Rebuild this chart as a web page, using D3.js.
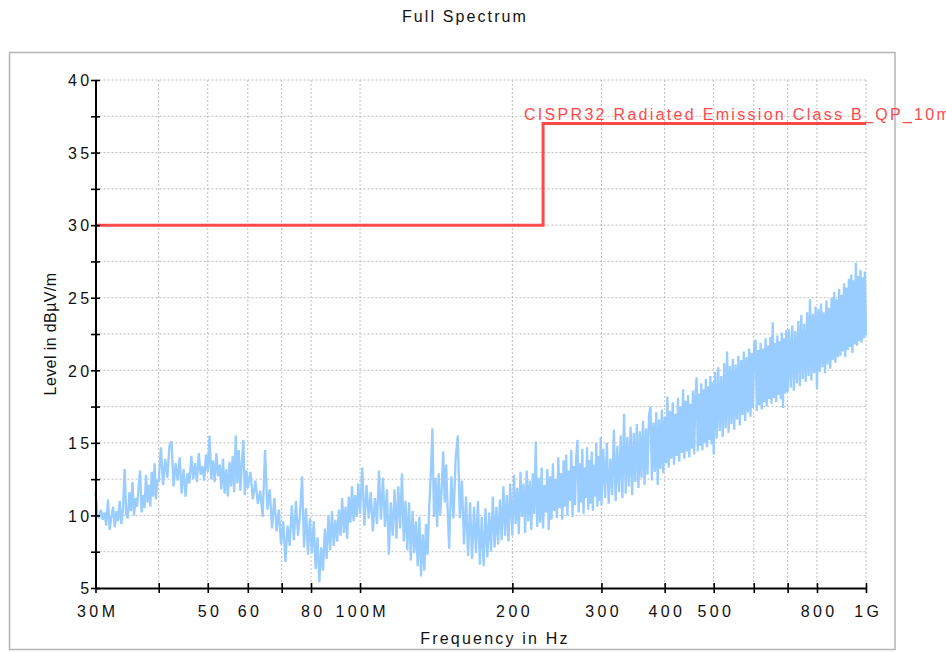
<!DOCTYPE html>
<html><head><meta charset="utf-8">
<script src="https://cdn.jsdelivr.net/npm/d3@7"></script>
<style>
body{margin:0;background:#fff;}
svg{display:block;font-family:"Liberation Sans",Arial,sans-serif;}
</style>
</head><body>
<svg id="chart" width="946" height="652"></svg>
<script>
// ---------- texts ----------
const chartTitle = "Full Spectrum";
const xAxisTitle = "Frequency in Hz";
const yAxisTitle = "Level in dBµV/m";
const limitName = "CISPR32 Radiated Emission Class B_QP_10m";

// ---------- ticks ----------
const xTickValues = [30, 40, 50, 60, 70, 80, 100, 200, 300, 400, 500, 600, 700, 800, 1000];
const xTickLabels = ["30M", "", "50", "60", "", "80", "100M", "200", "300", "400", "500", "", "", "800", "1G"];
const yTickValues = [5, 7.5, 10, 12.5, 15, 17.5, 20, 22.5, 25, 27.5, 30, 32.5, 35, 37.5, 40];
const yTickLabels = ["5", "", "10", "", "15", "", "20", "", "25", "", "30", "", "35", "", "40"];

// ---------- limit line (MHz, dBµV/m) ----------
const limitFreq = [30, 230, 230, 1000];
const limitLevel = [30, 30, 37, 37];

const trace30to40 = [[30.00,11.6],[30.25,10.1],[30.50,9.8],[30.75,10.4],[31.00,9.7],[31.25,10.2],[31.50,9.3],[31.75,11.1],[32.00,9.0],[32.25,9.9],[32.50,10.6],[32.75,9.2],[33.00,10.3],[33.25,9.6],[33.50,11.0],[33.75,9.4],[34.00,10.4],[34.25,13.2],[34.50,10.1],[34.75,9.8],[35.00,11.6],[35.25,10.3],[35.50,12.3],[35.75,10.0],[36.00,11.2],[36.25,10.6],[36.50,11.9],[36.75,13.1],[37.00,10.2],[37.25,11.4],[37.50,10.5],[37.75,12.8],[38.00,10.9],[38.25,12.1],[38.50,10.6],[38.75,13.0],[39.00,11.3],[39.25,13.6],[39.50,11.1],[39.75,12.4]];
const trace40to60 = [[40.0,12.3],[40.4,14.7],[40.8,12.1],[41.2,13.9],[41.6,12.6],[42.0,14.8],[42.4,15.1],[42.8,12.0],[43.2,13.6],[43.6,12.4],[44.0,14.0],[44.4,11.5],[44.8,13.2],[45.2,11.3],[45.6,12.9],[46.0,12.2],[46.4,14.1],[46.8,12.5],[47.2,13.6],[47.6,12.3],[48.0,14.3],[48.4,12.8],[48.8,13.4],[49.2,12.4],[49.6,14.2],[50.0,13.0],[50.4,15.5],[50.8,12.5],[51.2,13.8],[51.6,12.3],[52.0,14.3],[52.4,12.7],[52.8,13.5],[53.2,11.8],[53.6,13.9],[54.0,11.5],[54.4,13.2],[54.8,11.3],[55.2,13.7],[55.6,12.0],[56.0,14.1],[56.4,11.6],[56.8,15.5],[57.2,12.2],[57.6,14.5],[58.0,11.7],[58.4,13.6],[58.8,15.2],[59.2,11.4],[59.6,13.1]];
const trace60to100 = [[60.0,11.9],[60.7,13.0],[61.4,11.1],[62.1,12.4],[62.8,10.8],[63.5,11.7],[64.2,9.9],[64.9,14.5],[65.6,10.4],[66.3,11.8],[67.0,9.1],[67.7,11.2],[68.4,8.9],[69.1,10.4],[69.8,8.0],[70.5,9.6],[71.2,6.8],[71.9,9.3],[72.6,7.9],[73.3,10.7],[74.0,8.3],[74.7,11.0],[75.4,8.6],[76.1,10.1],[76.8,12.7],[77.5,7.8],[78.2,10.5],[78.9,7.3],[79.6,9.8],[80.3,7.4],[81.0,9.6],[81.7,6.3],[82.4,8.5],[83.1,5.4],[83.8,7.8],[84.5,6.2],[85.2,9.1],[85.9,7.0],[86.6,10.0],[87.3,7.6],[88.0,10.3],[88.7,7.9],[89.4,9.7],[90.1,8.2],[90.8,10.4],[91.5,8.6],[92.2,11.2],[92.9,8.8],[93.6,10.6],[94.3,8.4],[95.0,11.3],[95.7,9.5],[96.4,12.0],[97.1,9.6],[97.8,11.4],[98.5,9.9],[99.2,12.2]];
const trace100to150 = [[100,10.1],[101,13.3],[102,9.3],[103,12.1],[104,9.8],[105,11.6],[106,8.9],[107,11.2],[108,9.4],[109,13.1],[110,9.7],[111,12.6],[112,9.2],[113,11.8],[114,7.3],[115,10.9],[116,8.6],[117,11.8],[118,8.4],[119,12.0],[120,9.1],[121,12.9],[122,8.2],[123,11.0],[124,7.6],[125,10.9],[126,6.9],[127,10.3],[128,7.4],[129,9.6],[130,6.5],[131,9.9],[132,5.8],[133,8.7],[134,6.2],[135,9.4],[136,7.3],[137,10.6],[138,12.8],[139,16.0],[140,9.9],[141,12.6],[142,9.2],[143,12.9],[144,10.0],[145,11.8],[146,14.4],[147,10.9],[148,13.5],[149,10.4]];
const trace150to200 = [[150,7.7],[151.5,12.7],[153,9.8],[154.5,13.9],[156,15.5],[157.5,9.8],[159,12.4],[160.5,8.0],[162,11.3],[163.5,7.2],[165,10.9],[166.5,7.0],[168,10.6],[169.5,7.4],[171,11.0],[172.5,6.6],[174,9.9],[175.5,6.5],[177,10.5],[178.5,7.1],[180,10.2],[181.5,7.5],[183,11.3],[184.5,7.8],[186,10.6],[187.5,8.0],[189,11.1],[190.5,8.3],[192,12.0],[193.5,8.6],[195,11.4],[196.5,8.2],[198,12.2]];
const trace200to300 = [[200,8.6],[201.5,12.8],[203,9.4],[204.5,11.9],[206,8.7],[207.5,13.0],[209,9.9],[210.5,12.2],[212,8.8],[213.5,13.1],[215,9.6],[216.5,12.4],[218,9.0],[219.5,12.9],[221,10.1],[222.5,15.1],[224,9.2],[225.5,12.6],[227,9.5],[228.5,13.3],[230,9.1],[231.5,12.1],[233,10.2],[234.5,13.2],[236,9.0],[237.5,12.7],[239,9.7],[240.5,13.6],[242,10.3],[243.5,12.5],[245,9.8],[246.5,14.0],[248,10.5],[249.5,12.9],[251,9.7],[252.5,13.8],[254,10.6],[255.5,14.2],[257,10.0],[258.5,13.1],[260,11.0],[261.5,14.5],[263,9.9],[264.5,13.4],[266,10.7],[267.5,14.1],[269,15.2],[270.5,10.2],[272,13.6],[273.5,10.9],[275,14.6],[276.5,10.1],[278,13.3],[279.5,11.2],[281,14.7],[282.5,10.4],[284,13.8],[285.5,10.8],[287,14.4],[288.5,10.3],[290,13.5],[291.5,11.3],[293,15.0],[294.5,10.6],[296,14.1],[297.5,11.0],[299,15.4]];
const trace300to500 = [[300,10.7],[302.5,14.6],[305,11.2],[307.5,15.0],[310,10.8],[312.5,13.9],[315,11.4],[317.5,15.9],[320,11.0],[322.5,14.8],[325,11.6],[327.5,15.5],[330,11.2],[332.5,17.0],[335,11.5],[337.5,15.4],[340,12.0],[342.5,16.1],[345,11.4],[347.5,15.7],[350,12.3],[352.5,16.3],[355,11.9],[357.5,15.8],[360,12.6],[362.5,16.5],[365,12.1],[367.5,16.0],[370,12.8],[372.5,16.9],[375,17.5],[377.5,12.4],[380,16.4],[382.5,13.0],[385,17.1],[387.5,12.1],[390,16.6],[392.5,13.2],[395,17.3],[397.5,12.9],[400,16.8],[402.5,13.6],[405,18.2],[407.5,13.3],[410,17.2],[412.5,13.9],[415,17.8],[417.5,13.5],[420,17.0],[422.5,14.1],[425,18.1],[427.5,13.7],[430,17.5],[432.5,14.3],[435,18.7],[437.5,13.9],[440,17.9],[442.5,14.4],[445,18.3],[447.5,14.0],[450,17.7],[452.5,14.6],[455,18.6],[457.5,14.2],[460,18.1],[462.5,19.5],[465,14.4],[467.5,18.4],[470,14.8],[472.5,19.1],[475,14.5],[477.5,18.7],[480,15.0],[482.5,19.4],[485,14.7],[487.5,18.9],[490,15.2],[492.5,19.6],[495,14.9],[497.5,19.2]];
const trace500to700 = [[500,14.2],[503.5,19.9],[507,15.3],[510.5,20.2],[514,15.8],[517.5,19.6],[521,15.4],[524.5,20.5],[528,16.0],[531.5,21.3],[535,15.7],[538.5,20.3],[542,16.3],[545.5,20.8],[549,15.9],[552.5,20.4],[556,16.6],[559.5,21.0],[563,16.2],[566.5,20.7],[570,16.9],[573.5,21.3],[577,16.5],[580.5,20.9],[584,17.1],[587.5,21.5],[591,16.8],[594.5,21.2],[598,17.4],[601.5,21.8],[605,22.1],[608.5,17.2],[612,21.4],[615.5,17.6],[619,21.9],[622.5,17.3],[626,21.5],[629.5,17.8],[633,22.2],[636.5,17.5],[640,21.7],[643.5,18.0],[647,22.3],[650.5,17.7],[654,23.3],[657.5,18.1],[661,21.9],[664.5,17.8],[668,22.4],[671.5,18.3],[675,22.0],[678.5,18.0],[682,22.6],[685.5,17.4],[689,22.2],[692.5,18.4],[696,22.8]];
const trace700to1000 = [[700,18.5],[705,22.8],[710,18.8],[715,23.1],[720,18.6],[725,22.7],[730,19.1],[735,23.4],[740,18.9],[745,23.8],[750,19.4],[755,23.2],[760,19.2],[765,24.0],[770,19.6],[775,24.9],[780,19.3],[785,23.9],[790,19.8],[795,24.4],[800,18.7],[805,24.2],[810,19.9],[815,24.6],[820,20.2],[825,24.0],[830,19.8],[835,24.8],[840,20.4],[845,24.3],[850,20.1],[855,25.0],[860,20.7],[865,25.4],[870,20.5],[875,24.9],[880,20.9],[885,25.6],[890,21.0],[895,25.2],[900,21.3],[905,26.0],[910,20.9],[915,25.7],[920,21.4],[925,26.3],[930,21.6],[935,26.6],[940,21.2],[945,26.2],[950,21.8],[955,27.4],[960,21.7],[965,26.5],[970,22.0],[975,26.9],[980,21.9],[985,26.4],[990,22.2],[995,26.8],[1000,22.4]];

const trace = [].concat(trace30to40, trace40to60, trace60to100, trace100to150,
  trace150to200, trace200to300, trace300to500, trace500to700, trace700to1000);

// ---------- drawing ----------
const svg = d3.select("#chart");
const plotLeft = 95.5, plotRight = 866, plotTop = 80, plotBottom = 588;
const x = d3.scaleLog().domain([30, 1000]).range([plotLeft, plotRight]);
const y = d3.scaleLinear().domain([5, 40]).range([plotBottom, plotTop]);

// outer frame
svg.append("rect").attr("x", 9.5).attr("y", 52.5).attr("width", 885.5).attr("height", 597)
  .attr("fill", "none").attr("stroke", "#b5b5b5").attr("stroke-width", 1.5);

// title
svg.append("text").attr("x", 465).attr("y", 22).attr("text-anchor", "middle")
  .attr("font-size", 16).attr("letter-spacing", 2.1).attr("fill", "#111").text(chartTitle);

// grid
const grid = svg.append("g").attr("stroke", "#bdbdbd").attr("stroke-width", 1).attr("stroke-dasharray", "2,2");
grid.selectAll("line.h").data(yTickValues.filter(d => d > 5)).join("line")
  .attr("class", "h")
  .attr("x1", plotLeft).attr("x2", plotRight).attr("y1", d => y(d)).attr("y2", d => y(d));
grid.selectAll("line.v").data(xTickValues.filter(d => d > 30)).join("line")
  .attr("class", "v")
  .attr("x1", d => x(d)).attr("x2", d => x(d)).attr("y1", plotTop).attr("y2", plotBottom);

// trace
const line = d3.line().x(d => x(d[0])).y(d => y(d[1]));
svg.append("path").datum(trace).attr("d", line).attr("fill", "none")
  .attr("stroke", "#99ccff").attr("stroke-width", 2.3).attr("stroke-linejoin", "miter").attr("stroke-miterlimit", 2);

// limit line
const limitData = limitFreq.map((f, i) => [f, limitLevel[i]]);
svg.append("path").datum(limitData).attr("d", line).attr("fill", "none")
  .attr("stroke", "#ff4a4a").attr("stroke-width", 3);
svg.append("text").attr("x", 524).attr("y", 120).attr("font-size", 16)
  .attr("letter-spacing", 2.3).attr("fill", "#ff4a4a").text(limitName);

// axes
const yAxis = d3.axisLeft(y).tickValues(yTickValues)
  .tickFormat((d, i) => yTickLabels[i]).tickSizeOuter(0);
const gy = svg.append("g").attr("transform", `translate(${plotLeft},0)`).call(yAxis);
const xAxis = d3.axisBottom(x).tickValues(xTickValues)
  .tickFormat((d, i) => xTickLabels[i]).tickSizeOuter(0);
const gx = svg.append("g").attr("transform", `translate(0,${plotBottom})`).call(xAxis);

[gx, gy].forEach(g => {
  g.select(".domain").attr("stroke", "#000").attr("stroke-width", 2);
  g.selectAll(".tick line").attr("stroke", "#000").attr("stroke-width", 1.6);
  g.selectAll(".tick text").attr("font-size", 16).attr("letter-spacing", 3.4)
    .attr("fill", "#111").attr("font-family", "Liberation Sans, Arial, sans-serif");
});
gy.selectAll(".tick line").attr("x1", -4.5).attr("x2", 4.5);
gy.selectAll(".tick text").attr("x", -3).attr("dy", "0.36em");
gx.selectAll(".tick line").attr("y1", -5).attr("y2", 5);
gx.selectAll(".tick text").attr("y", 29).attr("dy", 0).attr("dx", 1.7);

// axis titles
svg.append("text").attr("x", 495).attr("y", 644).attr("text-anchor", "middle")
  .attr("font-size", 16).attr("letter-spacing", 2.2).attr("fill", "#111").text(xAxisTitle);
svg.append("text").attr("transform", "translate(56,334) rotate(-90)").attr("text-anchor", "middle")
  .attr("font-size", 16).attr("letter-spacing", 0.4).attr("fill", "#111").text(yAxisTitle);
</script>
</body></html>
